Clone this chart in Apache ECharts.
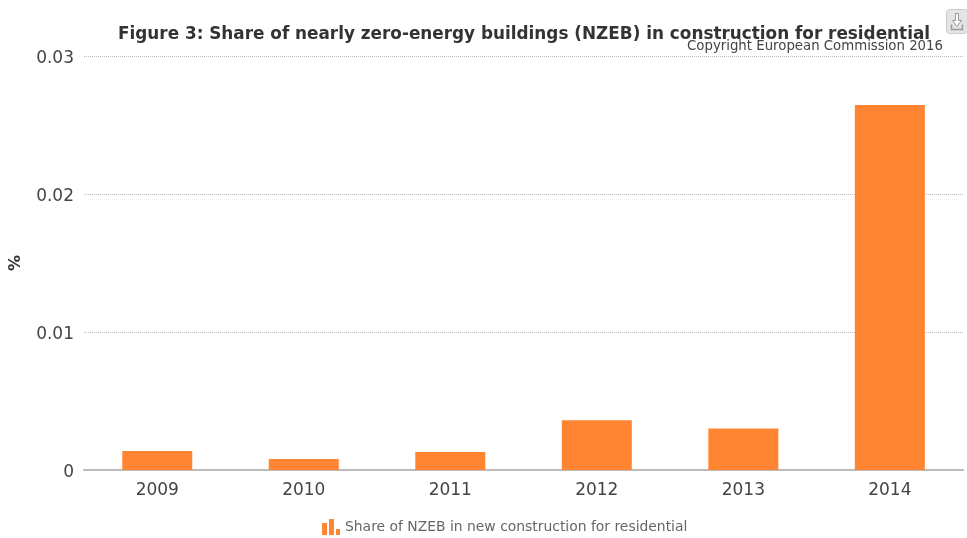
<!DOCTYPE html>
<html>
<head>
<meta charset="utf-8">
<title>NZEB</title>
<script src="https://cdn.jsdelivr.net/npm/echarts@6/dist/echarts.min.js"></script>
<style>
html,body{margin:0;padding:0;background:#fff}
#chart{width:967px;height:538px}
</style>
</head>
<body>
<div id="chart"></div>
<script>
//数据
var years = ['2009','2010','2011','2012','2013','2014'];
var shareValues = [0.00138,0.0008,0.0013,0.0036,0.003,0.02645];
var yTicks = {min:0,max:0.03,interval:0.01};
var seriesName = 'Share of NZEB in new construction for residential';
var titleText = 'Figure 3: Share of nearly zero-energy buildings (NZEB) in construction for residential';
var copyrightText = 'Copyright European Commission 2016';

var chart = echarts.init(document.getElementById('chart'));
var font = '"DejaVu Sans", Verdana, sans-serif';

var option = {
	animation:false,
	title:[
		{
			text:titleText,
			left:113,
			top:21,
			textStyle:{fontFamily:font,fontSize:16.85,fontWeight:'bold',color:'#333'}
		},
		{
			text:copyrightText,
			right:19,
			top:35,
			textStyle:{fontFamily:font,fontSize:13.3,fontWeight:'normal',color:'#444'}
		}
	],
	legend:{
		top:514,
		left:317,
		itemWidth:18,
		itemHeight:16,
		itemGap:5,
		textStyle:{fontFamily:font,fontSize:13.9,color:'#666'},
		data:[{
			name:seriesName,
			//图例的三根小柱子
			icon:'path://M0 4H5V16H0ZM7 0H12V16H7ZM14 10H18V16H14Z'
		}]
	},
	grid:{left:82.5,right:3.9,top:56,bottom:68},
	xAxis:{
		type:'category',
		data:years,
		axisTick:{show:false},
		axisLine:{lineStyle:{color:'#bbb',width:2}},
		axisLabel:{fontFamily:font,fontSize:17,color:'#444',margin:12}
	},
	yAxis:{
		type:'value',
		min:yTicks.min,
		max:yTicks.max,
		interval:yTicks.interval,
		name:'%',
		nameLocation:'middle',
		nameGap:60,
		nameTextStyle:{fontFamily:font,fontSize:16,fontWeight:'bold',color:'#333'},
		axisLine:{show:false},
		axisTick:{show:false},
		//文字略微下移
		axisLabel:{fontFamily:font,fontSize:17,color:'#444',margin:10,verticalAlign:'top',lineHeight:5},
		splitLine:{lineStyle:{type:'dotted',color:'#bbb',width:1}}
	},
	series:[{
		name:seriesName,
		type:'bar',
		data:shareValues,
		barWidth:70,
		itemStyle:{color:'#ff8533'}
	}],
	graphic:[{
		//右上角下载按钮
		type:'group',
		left:946,
		top:9,
		children:[
			{type:'rect',shape:{x:0,y:0,width:21,height:24,r:3},style:{fill:'#e4e4e4',stroke:'#ccc',lineWidth:1}},
			{type:'polyline',shape:{points:[[5,15],[5,20],[16,20],[16,15]]},style:{fill:'none',stroke:'#999',lineWidth:1.5}},
			{type:'polyline',shape:{points:[[9,4],[12,4],[12,11],[15,11],[10.5,17],[6,11],[9,11],[9,4]]},style:{fill:'#fff',stroke:'#999',lineWidth:1}}
		]
	}]
};
chart.setOption(option);
</script>
</body>
</html>
